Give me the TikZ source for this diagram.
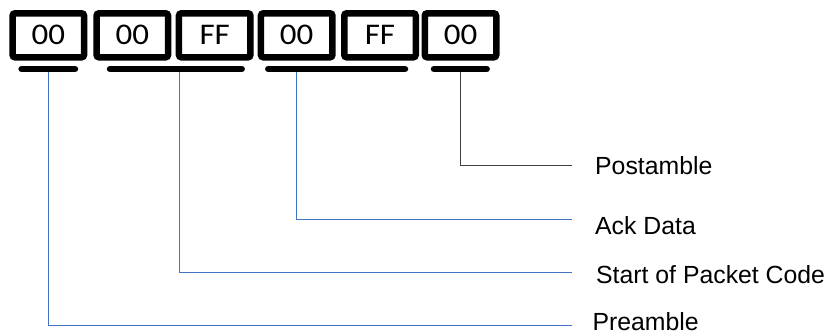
\documentclass[tikz,border=0pt]{standalone}
\usepackage{fontspec}
\setmainfont{Liberation Sans}
\newfontfamily\boxfont[FakeStretch=1.1]{Carlito}
\definecolor{leaderblue}{RGB}{68,114,196}
\definecolor{leadergray}{RGB}{64,64,64}
\tikzset{
  bytebox/.style={draw, line width=6.5pt, rounded corners=2.5pt, minimum width=71.5pt,
    minimum height=44pt, inner sep=0pt, font=\boxfont\fontsize{30}{32}\selectfont},
  fieldbar/.style={line width=6.5pt, line cap=round},
  leader/.style={leaderblue, line width=1pt},
  fieldlabel/.style={anchor=base west, inner sep=0pt, font=\fontsize{24.8}{30}\selectfont}
}
\begin{document}
\begin{tikzpicture}[x=1pt, y=-1pt]
  \useasboundingbox (0,0) rectangle (828,335);
  % Bytes of the packet
  \foreach \name/\x/\val in {b1/48.3/00, b2/132.3/00, b3/214.7/FF,
                             b4/296.7/00, b5/380/FF, b6/460.5/00}
    \node[bytebox] (\name) at (\x,35.3) {\val};

  % Tap points on the field bars
  \coordinate (tap1) at (48.3,69);
  \coordinate (tap2) at (179.3,69);
  \coordinate (tap3) at (296,69);
  \coordinate (tap4) at (460.7,69);

  % Ends of the leaders
  \coordinate (end1) at (572,325);
  \coordinate (end2) at (572,272);
  \coordinate (end3) at (572,219);
  \coordinate (end4) at (572,165);

  % Field names
  \node[fieldlabel] (pre)  at (592.3,330.8) {Preamble};
  \node[fieldlabel] (spc)  at (596,283.3)   {Start of Packet Code};
  \node[fieldlabel] (ack)  at (595,234)     {Ack Data};
  \node[fieldlabel] (post) at (595,174.5)   {Postamble};

  % Leaders
  \draw[leader] (tap1) |- (end1);
  \draw[leader] (tap2) |- (end2);
  \draw[leader] (tap3) |- (end3);
  \draw[leader, leadergray] (tap4) |- (end4);

  % Field bars
  \draw[fieldbar] (21.6,69) -- (75,69);
  \draw[fieldbar] (110,69) -- (241.7,69);
  \draw[fieldbar] (268.3,69) -- (405,69);
  \draw[fieldbar] (434,69) -- (486.7,69);
\end{tikzpicture}
\end{document}
